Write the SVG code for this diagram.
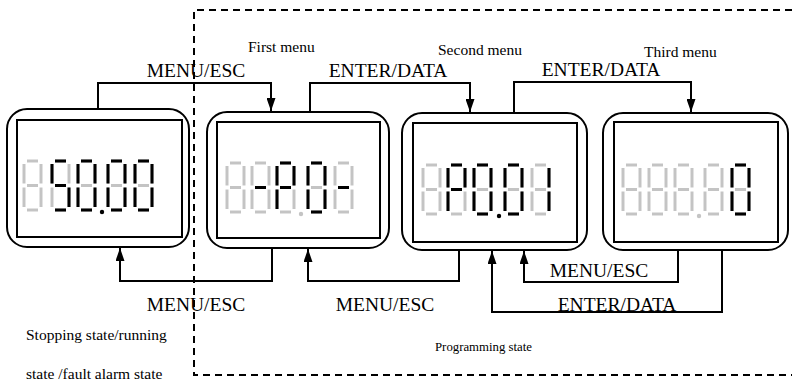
<svg xmlns="http://www.w3.org/2000/svg" xmlns:xlink="http://www.w3.org/1999/xlink" width="794" height="382" viewBox="0 0 794 382">
<style>
.frame{fill:none;stroke:#000;stroke-width:2}
.dash{fill:none;stroke:#000;stroke-width:2;stroke-dasharray:7 5}
.conn{fill:none;stroke:#000;stroke-width:2}
.seg{fill:none;stroke:currentColor;stroke-width:3;stroke-linecap:butt}
.off{color:#c4c4c4}
.on{color:#000}
.big{font-family:"Liberation Serif","Times New Roman",serif;font-size:19.5px;fill:#000}
.small{font-family:"Liberation Serif","Times New Roman",serif;font-size:15.5px;fill:#000}
.tiny{font-family:"Liberation Serif","Times New Roman",serif;font-size:12.8px;fill:#000}
</style>
<defs>
<marker id="arr" markerUnits="userSpaceOnUse" markerWidth="13" markerHeight="9" refX="13" refY="4.5" orient="auto">
<path d="M0,0 L13,4.5 L0,9 z" fill="#000"/>
</marker>
<path id="sa" class="seg" d="M3,0 H14"/>
<path id="sb" class="seg" d="M17,3 V22.5"/>
<path id="sc" class="seg" d="M17,26.5 V46"/>
<path id="sd" class="seg" d="M3,49 H14"/>
<path id="se" class="seg" d="M0,26.5 V46"/>
<path id="sf" class="seg" d="M0,3 V22.5"/>
<path id="sg" class="seg" d="M3,24.5 H14"/>
<g id="d8">
<use href="#sa"/><use href="#sb"/><use href="#sc"/><use href="#sd"/><use href="#se"/><use href="#sf"/><use href="#sg"/>
</g>
<g id="d0">
<use href="#sa"/><use href="#sb"/><use href="#sc"/><use href="#sd"/><use href="#se"/><use href="#sf"/>
</g>
<g id="d5">
<use href="#sa"/><use href="#sf"/><use href="#sg"/><use href="#sc"/><use href="#sd"/>
</g>
<g id="dP">
<use href="#sa"/><use href="#sb"/><use href="#sf"/><use href="#sg"/><use href="#se"/>
</g>
<g id="d1">
<use href="#sb"/><use href="#sc"/>
</g>
</defs>

<path class="dash" d="M792,10 H194 V375 H792"/>

<g id="node1">
<rect class="frame" x="7" y="109" width="182" height="138" rx="20"/>
<rect class="frame" x="17" y="120" width="165" height="117"/>
<g transform="translate(0,161)">
<use href="#d8" x="24" class="off"/>
<use href="#d8" x="52" class="off"/>
<use href="#d8" x="78" class="off"/>
<use href="#d8" x="108" class="off"/>
<use href="#d8" x="135" class="off"/>
<use href="#d5" x="52" class="on"/>
<use href="#d0" x="78" class="on"/>
<use href="#d0" x="108" class="on"/>
<use href="#d0" x="135" class="on"/>
<circle cx="102" cy="51" r="2.2" fill="#000"/>
</g>
</g>

<g id="node2">
<rect class="frame" x="207" y="112" width="182" height="136" rx="20"/>
<rect class="frame" x="217" y="122" width="163" height="116"/>
<g transform="translate(0,163)">
<use href="#d8" x="227" class="off"/>
<use href="#d8" x="252" class="off"/>
<use href="#d8" x="277" class="off"/>
<use href="#d8" x="308" class="off"/>
<use href="#d8" x="335" class="off"/>
<use href="#sg" x="252" class="on"/>
<use href="#dP" x="277" class="on"/>
<use href="#d0" x="308" class="on"/>
<use href="#sg" x="335" class="on"/>
<circle cx="301" cy="51" r="2.2" fill="#c4c4c4"/>
</g>
</g>

<g id="node3">
<rect class="frame" x="402" y="113" width="185" height="137" rx="20"/>
<rect class="frame" x="413" y="123" width="164" height="119"/>
<g transform="translate(0,165)">
<use href="#d8" x="423" class="off"/>
<use href="#d8" x="448" class="off"/>
<use href="#d8" x="474" class="off"/>
<use href="#d8" x="505" class="off"/>
<use href="#d8" x="532" class="off"/>
<use href="#dP" x="448" class="on"/>
<use href="#d0" x="474" class="on"/>
<use href="#d0" x="505" class="on"/>
<use href="#d1" x="532" class="on"/>
<circle cx="499" cy="51" r="2.2" fill="#000"/>
</g>
</g>

<g id="node4">
<rect class="frame" x="603" y="113" width="185" height="137" rx="20"/>
<rect class="frame" x="614" y="122" width="164" height="120"/>
<g transform="translate(0,165)">
<use href="#d8" x="623" class="off"/>
<use href="#d8" x="649" class="off"/>
<use href="#d8" x="675" class="off"/>
<use href="#d8" x="705" class="off"/>
<use href="#d8" x="732" class="off"/>
<use href="#d0" x="732" class="on"/>
<circle cx="699" cy="51" r="2.2" fill="#c4c4c4"/>
</g>
</g>

<g id="connectors">
<path class="conn" d="M98,109 V83 H271 V111" marker-end="url(#arr)"/>
<path class="conn" d="M310,112 V83 H470 V112" marker-end="url(#arr)"/>
<path class="conn" d="M514,113 V82 H691 V112" marker-end="url(#arr)"/>
<path class="conn" d="M272,248 V281 H120 V248" marker-end="url(#arr)"/>
<path class="conn" d="M459,250 V281 H308 V249" marker-end="url(#arr)"/>
<path class="conn" d="M678,250 V282 H524 V251" marker-end="url(#arr)"/>
<path class="conn" d="M722,250 V312 H492 V251" marker-end="url(#arr)"/>
</g>

<g id="labels">
<text class="big" x="196" y="77" text-anchor="middle">MENU/ESC</text>
<text class="big" x="388" y="77" text-anchor="middle">ENTER/DATA</text>
<text class="big" x="601" y="76" text-anchor="middle">ENTER/DATA</text>
<text class="small" x="248" y="52">First menu</text>
<text class="small" x="438" y="55">Second menu</text>
<text class="small" x="644" y="57">Third menu</text>
<text class="big" x="196" y="311" text-anchor="middle">MENU/ESC</text>
<text class="big" x="385" y="311" text-anchor="middle">MENU/ESC</text>
<text class="big" x="599" y="277" text-anchor="middle">MENU/ESC</text>
<text class="big" x="617" y="311" text-anchor="middle">ENTER/DATA</text>
<text class="small" x="26" y="340">Stopping state/running</text>
<text class="small" x="26" y="379">state /fault alarm state</text>
<text class="tiny" x="435" y="351">Programming state</text>
</g>
</svg>
